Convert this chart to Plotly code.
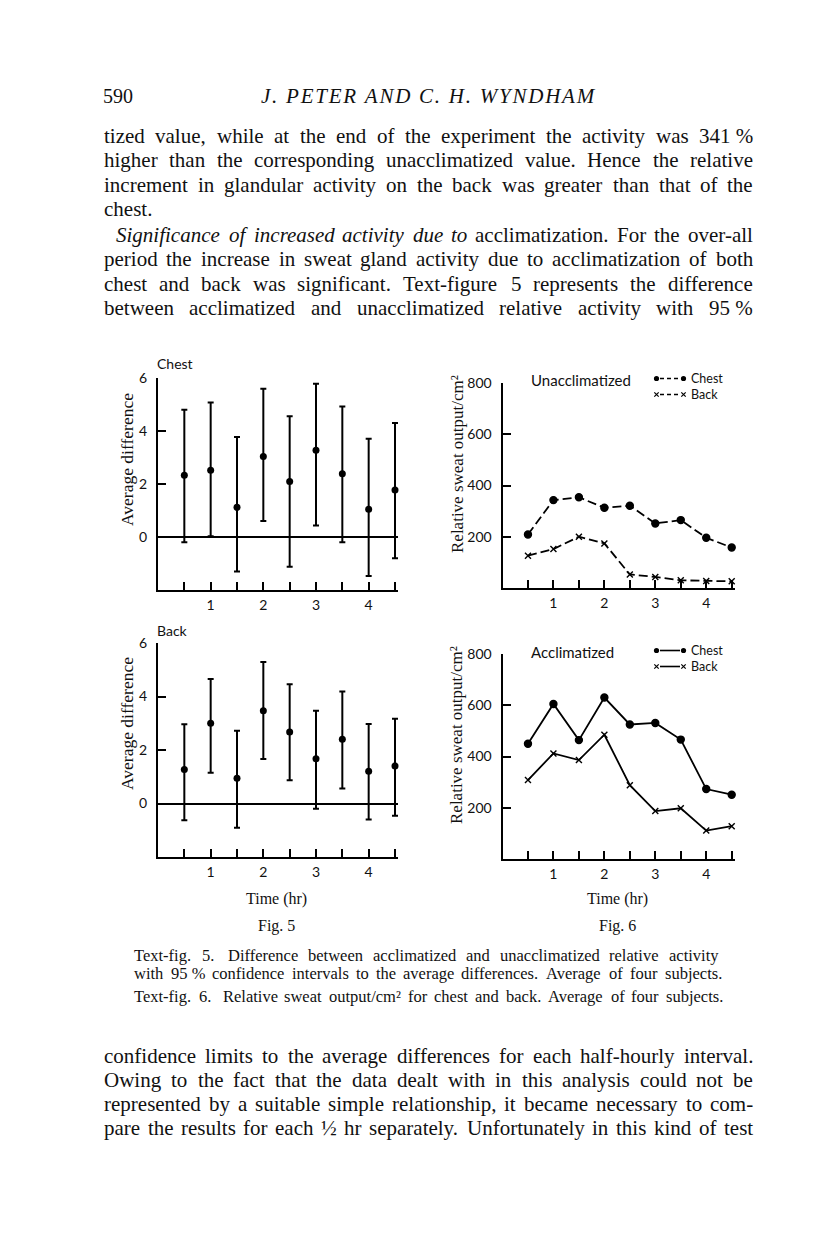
import plotly.graph_objects as go

W, H = 816, 1249

# ---- data ----------------------------------------------------------------
half_hours = [0.5, 1.0, 1.5, 2.0, 2.5, 3.0, 3.5, 4.0, 4.5]
hour_labels = ["", "1", "", "2", "", "3", "", "4", ""]

# Fig. 5  average difference (acclimatized - unacclimatized) with 95 % limits
chest_diff_mean = [2.33, 2.52, 1.12, 3.04, 2.09, 3.27, 2.39, 1.05, 1.77]
chest_diff_hi = [4.80, 5.08, 3.77, 5.59, 4.56, 5.78, 4.92, 3.71, 4.30]
chest_diff_lo = [-0.20, 0.03, -1.30, 0.60, -1.12, 0.43, -0.20, -1.47, -0.80]
back_diff_mean = [1.27, 3.00, 0.94, 3.47, 2.67, 1.67, 2.40, 1.21, 1.40]
back_diff_hi = [2.96, 4.65, 2.72, 5.29, 4.46, 3.47, 4.19, 2.97, 3.17]
back_diff_lo = [-0.63, 1.15, -0.91, 1.66, 0.87, -0.20, 0.56, -0.60, -0.46]

# Fig. 6  relative sweat output / cm2
unacc_chest = [209, 343, 354, 313, 321, 252, 265, 196, 158]
unacc_back = [126, 152, 200, 174, 53, 43, 30, 27, 26]
acc_chest = [450, 605, 464, 630, 525, 531, 466, 273, 251]
acc_back = [308, 412, 386, 485, 288, 187, 198, 111, 128]

diff_ticks = [0, 2, 4, 6]
sweat_ticks = [200, 400, 600, 800]

# ---- page text -------------------------------------------------------------
top_lines = [
    "tized value, while at the end of the experiment the activity was 341\u00a0%",
    "higher than the corresponding unacclimatized value. Hence the relative",
    "increment in glandular activity on the back was greater than that of the",
    "chest.",
    "Significance of increased activity due to acclimatization. For the over-all",
    "period the increase in sweat gland activity due to acclimatization of both",
    "chest and back was significant. Text-figure 5 represents the difference",
    "between acclimatized and unacclimatized relative activity with 95\u00a0%",
]
bottom_lines = [
    "confidence limits to the average differences for each half-hourly interval.",
    "Owing to the fact that the data dealt with in this analysis could not be",
    "represented by a suitable simple relationship, it became necessary to com-",
    "pare the results for each \u00bd hr separately. Unfortunately in this kind of test",
]
captions = [
    "Text-fig. 5.\u00a0 Difference between acclimatized and unacclimatized relative activity",
    "with 95\u00a0% confidence intervals to the average differences. Average of four subjects.",
    "Text-fig. 6.\u00a0 Relative sweat output/cm\u00b2 for chest and back. Average of four subjects.",
]
header = "J. PETER AND C. H. WYNDHAM"

SERIF = "Liberation Serif"
SANS = "Lato"
INK = "#111111"

# Times-compatible advance widths (1/1000 em), used to justify lines
TIMES = dict(zip("abcdefghijklmnopqrstuvwxyz",
                 [444, 500, 444, 500, 444, 333, 500, 500, 278, 278, 500, 278, 778,
                  500, 500, 500, 500, 333, 389, 278, 500, 500, 722, 500, 500, 444]))
TIMES.update(dict(zip("ABCDEFGHIJKLMNOPQRSTUVWXYZ",
                      [722, 667, 667, 722, 611, 556, 722, 722, 333, 389, 722, 611, 889,
                       722, 722, 556, 722, 667, 556, 611, 722, 722, 944, 722, 722, 611])))
TIMES.update({".": 250, ",": 250, "%": 833, "-": 333, "(": 333, ")": 333, "/": 278,
              ":": 278, ";": 278, "\u00a0": 250, " ": 250, "\u00bd": 750, "\u00b2": 300})

annotations = []
shapes = []


def note(text, x, y, size, family=SERIF, xanchor="left", angle=0, align="center"):
    annotations.append(dict(text=text, x=x / W, y=1 - y / H, xref="paper", yref="paper",
                            xanchor=xanchor, yanchor="middle", showarrow=False,
                            textangle=angle, borderpad=0, align=align,
                            font=dict(family=family, size=size, color=INK)))


def tw(s, size):
    return sum(TIMES.get(c, 500) for c in s) / 1000 * size


def text_line(line, y, x0, x1, size, justify=True, italic_n=0):
    words = line.split(" ")
    widths = [tw(w, size) for w in words]
    if justify and len(words) > 1:
        gap = (x1 - x0 - sum(widths)) / (len(words) - 1)
    else:
        gap = 0.25 * size
    x = x0
    for i, (w, wd) in enumerate(zip(words, widths)):
        note("<i>%s</i>" % w if i < italic_n else w, x, y, size)
        x += wd + gap


def pline(x0, y0, x1, y1, width=1.6, dash="solid"):
    shapes.append(dict(type="line", xref="paper", yref="paper",
                       x0=x0 / W, x1=x1 / W, y0=1 - y0 / H, y1=1 - y1 / H,
                       line=dict(color="black", width=width, dash=dash)))


# header, letter spaced
note("590", 102, 96, 20)
note("<i>%s</i>" % "\u200a".join(header), 428, 96, 21, xanchor="center")

top_y = [136, 160, 185, 209, 235, 259, 284, 308]
for i, (line, y) in enumerate(zip(top_lines, top_y)):
    x0 = 115 if i == 4 else 103
    text_line(line, y, x0, 752, 21, justify=(i != 3), italic_n=6 if i == 4 else 0)

bot_y = [1056, 1080, 1104, 1128]
for line, y in zip(bottom_lines, bot_y):
    text_line(line, y, 103, 752, 21)

cap_y = [955, 973, 997]
cap_x1 = [717, 721, 722]
for line, y, x1 in zip(captions, cap_y, cap_x1):
    text_line(line, y, 133, x1, 16.5)

# ---- panels ----------------------------------------------------------------
def dom_x(a, b):
    return [a / W, b / W]


def dom_y(top, bottom):
    return [1 - bottom / H, 1 - top / H]


base = dict(showline=True, linecolor="black", linewidth=2, ticks="inside",
            ticklen=8, tickwidth=2, tickcolor="black", showgrid=False,
            zeroline=False, automargin=False, fixedrange=True,
            tickfont=dict(family=SANS, size=14, color=INK))

XMAX = 4.56  # small room past the last half hour so end caps are not clipped


def xax(a, b, anchor):
    # a, b: pixel positions of time 0 and time 4.5
    scale = (b - a) / 4.5
    return dict(base, domain=dom_x(a, a + XMAX * scale), range=[0, XMAX], anchor=anchor,
                tickvals=half_hours, ticktext=hour_labels, ticklabelstandoff=1)


fig = go.Figure()

# Fig. 5 : means with 95 % limits
for mean, hi, lo, xa, ya in [(chest_diff_mean, chest_diff_hi, chest_diff_lo, "x", "y"),
                             (back_diff_mean, back_diff_hi, back_diff_lo, "x2", "y2")]:
    fig.add_trace(go.Scatter(
        x=half_hours, y=mean, mode="markers", xaxis=xa, yaxis=ya,
        marker=dict(symbol="circle", size=7, color="black"),
        error_y=dict(type="data", symmetric=False,
                     array=[h - m for h, m in zip(hi, mean)],
                     arrayminus=[m - l for m, l in zip(mean, lo)],
                     color="black", thickness=2, width=3),
        cliponaxis=False, showlegend=False, hoverinfo="skip"))

# Fig. 6 : lines
for vals, ax, dash, sym in [(unacc_chest, "3", "9px,4px", "circle"),
                            (unacc_back, "3", "9px,4px", "x-thin"),
                            (acc_chest, "4", "solid", "circle"),
                            (acc_back, "4", "solid", "x-thin")]:
    fig.add_trace(go.Scatter(
        x=half_hours, y=vals, mode="lines+markers",
        xaxis="x" + ax, yaxis="y" + ax,
        line=dict(color="black", width=1.8, dash=dash),
        marker=dict(symbol=sym, size=7 if sym == "circle" else 6, color="black",
                    line=dict(color="black", width=1.4)),
        cliponaxis=False, showlegend=False, hoverinfo="skip"))

layout_axes = dict(
    xaxis=xax(158, 395, "y"),
    yaxis=dict(base, domain=dom_y(378, 590), range=[-2, 6], anchor="x",
               tickvals=diff_ticks, ticklabelstandoff=6, zeroline=True,
               zerolinecolor="black", zerolinewidth=1.6),
    xaxis2=xax(158, 395, "y2"),
    yaxis2=dict(base, domain=dom_y(643, 857), range=[-2, 6], anchor="x2",
                tickvals=diff_ticks, ticklabelstandoff=6, zeroline=True,
                zerolinecolor="black", zerolinewidth=1.6),
    xaxis3=xax(502.5, 731.7, "y3"),
    yaxis3=dict(base, domain=dom_y(383, 588), range=[0, 800], anchor="x3",
                tickvals=sweat_ticks, ticklabelstandoff=6),
    xaxis4=xax(502.5, 731.7, "y4"),
    yaxis4=dict(base, domain=dom_y(654, 859), range=[0, 800], anchor="x4",
                tickvals=sweat_ticks, ticklabelstandoff=6),
)

# panel labels and axis titles
note("Chest", 156, 363, 14, family=SANS)
note("Back", 156, 630, 14, family=SANS)
note("Average difference", 127, 460, 17.5, xanchor="center", angle=-90)
note("Average difference", 127, 724, 17.5, xanchor="center", angle=-90)
note("Relative sweat output/cm\u00b2", 457, 464, 17, xanchor="center", angle=-90)
note("Relative sweat output/cm\u00b2", 457, 735, 17, xanchor="center", angle=-90)
note("Time (hr)", 276, 899, 16, xanchor="center")
note("Time (hr)", 617, 899, 16, xanchor="center")
note("Fig. 5", 276, 926, 16, xanchor="center")
note("Fig. 6", 617, 926, 16, xanchor="center")

# legends of Fig. 6 (key samples drawn as shapes, names as one two-line text)
for title, yc, yb, dash in [("Unacclimatized", 378.5, 394.5, "4px,3px"),
                            ("Acclimatized", 650.5, 666.5, "solid")]:
    note(title, 530, yc + 1, 15, family=SANS)
    note("Chest<br>Back", 690, (yc + yb) / 2, 12.5, family=SANS, align="left")
    pline(660, yc, 680, yc, dash=dash)
    pline(660, yb, 680, yb, dash=dash)
    for xx in (656.5, 683.5):
        shapes.append(dict(type="circle", xref="paper", yref="paper",
                           x0=(xx - 2.6) / W, x1=(xx + 2.6) / W,
                           y0=1 - (yc + 2.6) / H, y1=1 - (yc - 2.6) / H,
                           fillcolor="black", line=dict(color="black", width=0)))
        pline(xx - 2.2, yb - 2.2, xx + 2.2, yb + 2.2, width=1.2)
        pline(xx - 2.2, yb + 2.2, xx + 2.2, yb - 2.2, width=1.2)

fig.update_layout(
    width=W, height=H, margin=dict(l=0, r=0, t=0, b=0, pad=0),
    paper_bgcolor="white", plot_bgcolor="white",
    annotations=annotations, shapes=shapes, showlegend=False,
    **layout_axes)

fig.write_html("out.html", config={"displayModeBar": False},
               post_script="document.body.style.margin='0';")
